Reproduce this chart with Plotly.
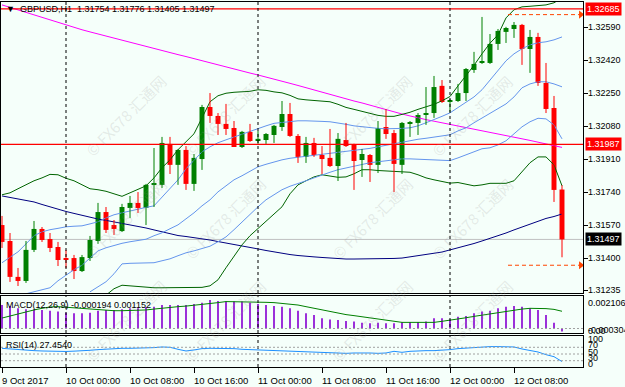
import plotly.graph_objects as go

# ---------------- data ----------------
time_labels = ["9 Oct 2017", "10 Oct 00:00", "10 Oct 08:00", "10 Oct 16:00", "11 Oct 00:00",
               "11 Oct 08:00", "11 Oct 16:00", "12 Oct 00:00", "12 Oct 08:00"]
time_label_bars = [0, 8, 16, 24, 32, 40, 48, 56, 64]
day_separator_bars = [8, 32, 56]

opens = [1.31571, 1.31489, 1.31304, 1.31283, 1.31443, 1.31551, 1.31499, 1.31458, 1.31401, 1.31401,
         1.31334, 1.31401, 1.31489, 1.31638, 1.31571, 1.31540, 1.31659, 1.31685, 1.31659, 1.31778,
         1.31778, 1.31989, 1.31881, 1.31958, 1.31783, 1.31911, 1.32179, 1.32133, 1.32092, 1.32071,
         1.31973, 1.32051, 1.32004, 1.32009, 1.32035, 1.32076, 1.32143, 1.32030, 1.31922, 1.31994,
         1.31932, 1.31917, 1.31875, 1.32009, 1.31984, 1.31906, 1.31932, 1.31881, 1.32076, 1.32045,
         1.31881, 1.32092, 1.32097, 1.32138, 1.32148, 1.32288, 1.32205, 1.32210, 1.32251, 1.32370,
         1.32406, 1.32406, 1.32504, 1.32566, 1.32581, 1.32602, 1.32478, 1.32540, 1.32303, 1.32174,
         1.31754]
highs = [1.31618, 1.31530, 1.31350, 1.31489, 1.31592, 1.31561, 1.31530, 1.31484, 1.31443, 1.31417,
         1.31417, 1.31515, 1.31685, 1.31664, 1.31597, 1.31680, 1.31721, 1.31741, 1.31783, 1.31968,
         1.32025, 1.32025, 1.31963, 1.31978, 1.31937, 1.32190, 1.32251, 1.32148, 1.32195, 1.32107,
         1.32056, 1.32092, 1.32056, 1.32045, 1.32087, 1.32210, 1.32200, 1.32040, 1.32025, 1.32020,
         1.31978, 1.32066, 1.32045, 1.32097, 1.31990, 1.31963, 1.31937, 1.32107, 1.32169, 1.32061,
         1.32102, 1.32107, 1.32148, 1.32282, 1.32339, 1.32318, 1.32220, 1.32298, 1.32380, 1.32463,
         1.32643, 1.32555, 1.32581, 1.32592, 1.32617, 1.32607, 1.32576, 1.32561, 1.32406, 1.32236,
         1.31776]
lows = [1.31453, 1.31278, 1.31257, 1.31273, 1.31432, 1.31484, 1.31432, 1.31360, 1.31350, 1.31293,
        1.31329, 1.31386, 1.31474, 1.31530, 1.31520, 1.31535, 1.31607, 1.31633, 1.31571, 1.31664,
        1.31762, 1.31834, 1.31778, 1.31752, 1.31747, 1.31855, 1.32097, 1.32035, 1.32035, 1.31973,
        1.31968, 1.31999, 1.31989, 1.31989, 1.31994, 1.32056, 1.32025, 1.31891, 1.31891, 1.31922,
        1.31834, 1.31870, 1.31798, 1.31973, 1.31752, 1.31819, 1.31793, 1.31839, 1.32015, 1.31741,
        1.31834, 1.32025, 1.32035, 1.32087, 1.32123, 1.32200, 1.32154, 1.32205, 1.32210, 1.32355,
        1.32401, 1.32401, 1.32473, 1.32509, 1.32535, 1.32396, 1.32355, 1.32288, 1.32148, 1.31690,
        1.31405]
closes = [1.31484, 1.31304, 1.31283, 1.31443, 1.31551, 1.31494, 1.31453, 1.31391, 1.31391, 1.31334,
          1.31406, 1.31494, 1.31638, 1.31546, 1.31551, 1.31664, 1.31685, 1.31659, 1.31778, 1.31783,
          1.31994, 1.31881, 1.31958, 1.31783, 1.31917, 1.32179, 1.32133, 1.32092, 1.32066, 1.31973,
          1.32051, 1.32004, 1.32015, 1.32040, 1.32082, 1.32143, 1.32030, 1.31922, 1.31994, 1.31932,
          1.31911, 1.31875, 1.32015, 1.31978, 1.31901, 1.31937, 1.31881, 1.32071, 1.32040, 1.31886,
          1.32097, 1.32097, 1.32138, 1.32148, 1.32282, 1.32205, 1.32215, 1.32251, 1.32375, 1.32401,
          1.32411, 1.32504, 1.32571, 1.32586, 1.32602, 1.32478, 1.32540, 1.32303, 1.32169, 1.31752,
          1.31497]

ma_slow = [1.31721, 1.31713, 1.31705, 1.31698, 1.31690, 1.31677, 1.31664, 1.31651, 1.31641, 1.31631,
           1.31620, 1.31613, 1.31602, 1.31595, 1.31587, 1.31579, 1.31574, 1.31566, 1.31556, 1.31546,
           1.31535, 1.31525, 1.31517, 1.31512, 1.31507, 1.31502, 1.31494, 1.31486, 1.31479, 1.31471,
           1.31463, 1.31456, 1.31448, 1.31440, 1.31432, 1.31425, 1.31419, 1.31414, 1.31409, 1.31407,
           1.31404, 1.31401, 1.31399, 1.31396, 1.31396, 1.31396, 1.31396, 1.31396, 1.31399, 1.31399,
           1.31401, 1.31407, 1.31412, 1.31417, 1.31425, 1.31432, 1.31443, 1.31453, 1.31463, 1.31476,
           1.31489, 1.31502, 1.31515, 1.31530, 1.31546, 1.31561, 1.31577, 1.31592, 1.31605, 1.31615,
           1.31628]
ma_long = [1.32705, 1.32692, 1.32679, 1.32666, 1.32653, 1.32640, 1.32628, 1.32615, 1.32602, 1.32589,
           1.32577, 1.32566, 1.32555, 1.32545, 1.32534, 1.32524, 1.32513, 1.32502, 1.32492, 1.32481,
           1.32471, 1.32460, 1.32449, 1.32439, 1.32428, 1.32417, 1.32407, 1.32396, 1.32386, 1.32375,
           1.32365, 1.32354, 1.32344, 1.32334, 1.32323, 1.32311, 1.32301, 1.32290, 1.32278, 1.32267,
           1.32256, 1.32245, 1.32233, 1.32222, 1.32210, 1.32200, 1.32188, 1.32177, 1.32166, 1.32155,
           1.32143, 1.32133, 1.32122, 1.32114, 1.32106, 1.32098, 1.32090, 1.32082, 1.32074, 1.32066,
           1.32058, 1.32050, 1.32042, 1.32034, 1.32025, 1.32016, 1.32007, 1.31998, 1.31989, 1.31980,
           1.31971]
band_outer_upper = [1.31727, 1.31737, 1.31758, 1.31778, 1.31799, 1.31814, 1.31832, 1.31830, 1.31812, 1.31799,
                    1.31778, 1.31758, 1.31753, 1.31745, 1.31732, 1.31719, 1.31737, 1.31755, 1.31773, 1.31814,
                    1.31866, 1.31907, 1.31959, 1.32000, 1.32041, 1.32123, 1.32206, 1.32237, 1.32250, 1.32255,
                    1.32257, 1.32260, 1.32268, 1.32265, 1.32257, 1.32252, 1.32239, 1.32221, 1.32216, 1.32213,
                    1.32211, 1.32206, 1.32193, 1.32177, 1.32167, 1.32157, 1.32144, 1.32136, 1.32131, 1.32131,
                    1.32141, 1.32152, 1.32167, 1.32180, 1.32193, 1.32211, 1.32233, 1.32288, 1.32340, 1.32394,
                    1.32453, 1.32508, 1.32551, 1.32638, 1.32680, 1.32695, 1.32698, 1.32700, 1.32705, 1.32716,
                    1.32741]
band_outer_lower = [None, None, None, None, None, None, None, None, None, None,
                    None, None, None, 1.31210, 1.31243, 1.31261, 1.31258, 1.31253, 1.31250, 1.31248,
                    1.31248, 1.31248, 1.31248, 1.31248, 1.31248, 1.31250, 1.31258, 1.31289, 1.31351, 1.31413,
                    1.31469, 1.31516, 1.31552, 1.31588, 1.31624, 1.31665, 1.31732, 1.31778, 1.31799, 1.31819,
                    1.31830, 1.31825, 1.31817, 1.31819, 1.31835, 1.31856, 1.31856, 1.31852, 1.31850, 1.31847,
                    1.31845, 1.31843, 1.31830, 1.31814, 1.31804, 1.31794, 1.31787, 1.31790, 1.31781, 1.31773,
                    1.31778, 1.31786, 1.31786, 1.31786, 1.31799, 1.31845, 1.31892, 1.31922, 1.31922, 1.31881,
                    1.31773]
band_inner_upper = [1.31377, 1.31407, 1.31433, 1.31474, 1.31516, 1.31536, 1.31547, 1.31554, 1.31562, 1.31565,
                    1.31567, 1.31577, 1.31588, 1.31608, 1.31624, 1.31634, 1.31644, 1.31655, 1.31662, 1.31670,
                    1.31716, 1.31758, 1.31804, 1.31861, 1.31902, 1.31948, 1.31974, 1.31995, 1.32010, 1.32025,
                    1.32036, 1.32051, 1.32069, 1.32082, 1.32095, 1.32100, 1.32105, 1.32108, 1.32108, 1.32108,
                    1.32105, 1.32103, 1.32098, 1.32090, 1.32082, 1.32077, 1.32072, 1.32069, 1.32067, 1.32067,
                    1.32069, 1.32072, 1.32082, 1.32098, 1.32113, 1.32131, 1.32149, 1.32175, 1.32201, 1.32231,
                    1.32268, 1.32319, 1.32371, 1.32417, 1.32453, 1.32479, 1.32499, 1.32510, 1.32515, 1.32525,
                    1.32540]
band_middle = [1.31186, 1.31196, 1.31207, 1.31217, 1.31227, 1.31238, 1.31248, 1.31284, 1.31312, 1.31341,
               1.31364, 1.31402, 1.31438, 1.31454, 1.31467, 1.31477, 1.31485, 1.31490, 1.31498, 1.31516,
               1.31531, 1.31552, 1.31572, 1.31603, 1.31634, 1.31670, 1.31701, 1.31742, 1.31773, 1.31804,
               1.31825, 1.31850, 1.31871, 1.31884, 1.31897, 1.31907, 1.31915, 1.31920, 1.31925, 1.31930,
               1.31935, 1.31941, 1.31946, 1.31951, 1.31956, 1.31961, 1.31966, 1.31974, 1.31982, 1.31989,
               1.32000, 1.32007, 1.32013, 1.32018, 1.32023, 1.32028, 1.32036, 1.32056, 1.32072, 1.32098,
               1.32123, 1.32149, 1.32170, 1.32195, 1.32231, 1.32278, 1.32298, 1.32309, 1.32309, 1.32298,
               1.32283]
band_inner_lower = [None, None, None, None, None, None, None, None, None, None,
                    None, 1.31227, 1.31253, 1.31279, 1.31320, 1.31371, 1.31374, 1.31374, 1.31374, 1.31377,
                    1.31387, 1.31397, 1.31413, 1.31428, 1.31438, 1.31449, 1.31462, 1.31485, 1.31510, 1.31547,
                    1.31588, 1.31629, 1.31665, 1.31701, 1.31727, 1.31753, 1.31771, 1.31783, 1.31799, 1.31814,
                    1.31830, 1.31843, 1.31856, 1.31866, 1.31876, 1.31884, 1.31892, 1.31897, 1.31902, 1.31907,
                    1.31912, 1.31912, 1.31910, 1.31907, 1.31904, 1.31903, 1.31903, 1.31917, 1.31933, 1.31948,
                    1.31964, 1.31969, 1.31984, 1.32005, 1.32041, 1.32077, 1.32103, 1.32121, 1.32118, 1.32087,
                    1.32015]

macd_hist = [0.00157, 0.00150, 0.00135, 0.00128, 0.00128, 0.00124, 0.00119, 0.00113, 0.00106, 0.00102,
             0.00102, 0.00106, 0.00119, 0.00124, 0.00124, 0.00128, 0.00135, 0.00135, 0.00142, 0.00146,
             0.00157, 0.00157, 0.00157, 0.00157, 0.00164, 0.00173, 0.00191, 0.00184, 0.00180, 0.00180,
             0.00180, 0.00173, 0.00164, 0.00157, 0.00150, 0.00146, 0.00135, 0.00119, 0.00102, 0.00090,
             0.00068, 0.00061, 0.00057, 0.00050, 0.00046, 0.00039, 0.00035, 0.00039, 0.00035, 0.00035,
             0.00041, 0.00041, 0.00043, 0.00046, 0.00068, 0.00068, 0.00061, 0.00079, 0.00084, 0.00102,
             0.00113, 0.00119, 0.00135, 0.00146, 0.00150, 0.00146, 0.00135, 0.00124, 0.00090, 0.00039,
             -0.000194]
macd_signal = [0.00070, 0.00084, 0.00097, 0.00110, 0.00124, 0.00135, 0.00144, 0.00146, 0.00142, 0.00137,
               0.00133, 0.00128, 0.00124, 0.00122, 0.00119, 0.00119, 0.00119, 0.00119, 0.00124, 0.00130,
               0.00137, 0.00142, 0.00146, 0.00150, 0.00155, 0.00159, 0.00166, 0.00173, 0.00180, 0.00180,
               0.00180, 0.00180, 0.00177, 0.00175, 0.00173, 0.00168, 0.00164, 0.00157, 0.00146, 0.00135,
               0.00124, 0.00113, 0.00102, 0.00093, 0.00086, 0.00079, 0.00070, 0.00061, 0.00055, 0.00048,
               0.00041, 0.00041, 0.00041, 0.00041, 0.00041, 0.00048, 0.00055, 0.00064, 0.00072, 0.00081,
               0.00090, 0.00099, 0.00108, 0.00117, 0.00124, 0.00130, 0.00135, 0.00135, 0.00133, 0.00128,
               0.001152]
rsi = [66.9, 65, 62, 61, 60, 59, 58, 57, 57.5, 58.5,
       59, 61, 63, 65, 66, 67, 67, 67, 67, 69,
       71, 70, 64, 59, 62, 66, 67, 67, 67, 66,
       64, 63, 62, 62, 62, 61, 60, 59, 58, 56,
       54, 53, 52, 52, 53, 54, 53, 52, 53, 58,
       55, 58, 60, 60, 60, 61, 63, 66, 68, 70,
       71, 72, 72, 72, 71, 65, 61, 56, 48, 42,
       27.454]

price_ticks = [1.32590, 1.32420, 1.32250, 1.32080, 1.31910, 1.31740, 1.31570, 1.31400, 1.31235]
level_lines = [1.32685, 1.31987]
bid_price = 1.31497
target_high = 1.32655
target_low = 1.31364
header = "GBPUSD,H1  1.31754 1.31776 1.31405 1.31497"
macd_label = "MACD(12,26,9) -0.000194 0.001152"
rsi_label = "RSI(14) 27.4540"
macd_scale = ["0.002106", "-0.000304"]
rsi_levels = [70, 50, 30]

# ---------------- styling ----------------
W, H = 625, 387
BG = "#F5FFFA"
FONT = "Liberation Sans, Arial, sans-serif"
GREEN, RED = "#008000", "#FF0000"
idx = list(range(len(closes)))

def py(px):  # pixel row -> paper fraction
    return 1 - px / H

def pxx(px):
    return px / W

X_DOM = [pxx(1), pxx(583)]
MAIN_DOM = [py(293), py(2)]
MACD_DOM = [py(333), py(296)]
RSI_DOM = [py(367), py(336)]
XR = [-0.125, 72.625]

fig = go.Figure()

def add_line(y, color, axis="y", xaxis="x", width=1):
    fig.add_trace(go.Scatter(x=idx, y=y, mode="lines", line=dict(color=color, width=width),
                             xaxis=xaxis, yaxis=axis, hoverinfo="skip", showlegend=False,
                             connectgaps=False))

add_line(ma_long, "#FF00FF")
add_line(ma_slow, "#000080")
add_line(band_outer_upper, "#006400")
add_line(band_outer_lower, "#006400")
add_line(band_inner_upper, "#6495ED")
add_line(band_middle, "#6495ED")
add_line(band_inner_lower, "#6495ED")

# candles
up = [i for i in idx if closes[i] >= opens[i]]
dn = [i for i in idx if closes[i] < opens[i]]
min_body = 0.00005
for grp, col in ((up, GREEN), (dn, RED)):
    wx, wy = [], []
    for i in grp:
        wx += [i, i, None]
        wy += [lows[i], highs[i], None]
    fig.add_trace(go.Scatter(x=wx, y=wy, mode="lines", line=dict(color=col, width=1),
                             xaxis="x", yaxis="y", hoverinfo="skip", showlegend=False))
    fig.add_trace(go.Bar(x=grp, base=[min(opens[i], closes[i]) for i in grp],
                         y=[max(abs(closes[i] - opens[i]), min_body) for i in grp],
                         width=0.62, marker=dict(color=col, line=dict(width=0)),
                         xaxis="x", yaxis="y", hoverinfo="skip", showlegend=False))

# MACD
fig.add_trace(go.Bar(x=idx, y=macd_hist, width=0.25, marker=dict(color="#9B30D9", line=dict(width=0)),
                     xaxis="x2", yaxis="y2", hoverinfo="skip", showlegend=False))
add_line(macd_signal, "#008000", axis="y2", xaxis="x2")
# RSI
add_line(rsi, "#1E90FF", axis="y3", xaxis="x3")

# target arrows
for tp in (target_high, target_low):
    fig.add_trace(go.Scatter(x=[72.35], y=[tp], mode="markers",
                             marker=dict(symbol="triangle-right", size=7, color="#FF4500"),
                             xaxis="x", yaxis="y", hoverinfo="skip", showlegend=False))

shapes = []
for lv in level_lines:
    shapes.append(dict(type="line", xref="x domain", yref="y", x0=0, x1=1, y0=lv, y1=lv,
                       line=dict(color="#FF0000", width=1.3)))
shapes.append(dict(type="line", xref="x domain", yref="y", x0=0, x1=1, y0=bid_price, y1=bid_price,
                   line=dict(color="#C0C0C0", width=1), layer="below"))
for tp in (target_high, target_low):
    shapes.append(dict(type="line", xref="x", yref="y", x0=63.25, x1=72.2, y0=tp, y1=tp,
                       line=dict(color="#FF4500", width=1, dash="4px,3px")))
for b in day_separator_bars:
    for xr, yr in (("x", "y domain"), ("x2", "y2 domain"), ("x3", "y3 domain")):
        shapes.append(dict(type="line", xref=xr, yref=yr, x0=b, x1=b, y0=0, y1=1,
                           line=dict(color="black", width=1, dash="3px,3px")))
shapes.append(dict(type="line", xref="x2 domain", yref="y2", x0=0, x1=1, y0=0, y1=0,
                   line=dict(color="#A0A0A0", width=1, dash="2px,2px")))
for lv in rsi_levels:
    shapes.append(dict(type="line", xref="x3 domain", yref="y3", x0=0, x1=1, y0=lv, y1=lv,
                       line=dict(color="#A0A0A0", width=1, dash="2px,2px")))

ann = []
# watermarks
for cy in (68, 218, 368):
    for cx in (78, 225, 372, 520):
        ann.append(dict(text="© FX678 汇通网", x=pxx(cx), y=py(cy), xref="paper", yref="paper",
                        showarrow=False, textangle=-45,
                        font=dict(family="Noto Sans CJK SC, sans-serif", size=15, color="rgba(150,150,150,0.2)")))
ann.append(dict(text="▼  " + header, x=pxx(4), y=py(9), xref="paper", yref="paper", xanchor="left",
                yanchor="middle", showarrow=False, font=dict(family=FONT, size=9, color="black")))
ann.append(dict(text=macd_label, x=pxx(4), y=py(305), xref="paper", yref="paper", xanchor="left",
                yanchor="middle", showarrow=False, font=dict(family=FONT, size=9, color="black")))
ann.append(dict(text=rsi_label, x=pxx(4), y=py(345), xref="paper", yref="paper", xanchor="left",
                yanchor="middle", showarrow=False, font=dict(family=FONT, size=9, color="black")))
for p in price_ticks:
    ann.append(dict(text=f"{p:.5f}", x=pxx(586), y=p, xref="paper", yref="y", xanchor="left",
                    yanchor="middle", showarrow=False, font=dict(family=FONT, size=9, color="black")))
for lv in level_lines:
    ann.append(dict(text=f"{lv:.5f}", x=pxx(585), y=lv, xref="paper", yref="y", xanchor="left",
                    yanchor="middle", showarrow=False, bgcolor="#FF0000", borderpad=1,
                    font=dict(family=FONT, size=9, color="white")))
ann.append(dict(text=f"{bid_price:.5f}", x=pxx(585), y=bid_price, xref="paper", yref="y", xanchor="left",
                yanchor="middle", showarrow=False, bgcolor="black", borderpad=1,
                font=dict(family=FONT, size=9, color="white")))
ann.append(dict(text=macd_scale[0], x=pxx(586), y=py(303), xref="paper", yref="paper", xanchor="left",
                yanchor="middle", showarrow=False, font=dict(family=FONT, size=9, color="black")))
ann.append(dict(text=macd_scale[1], x=pxx(586), y=py(330), xref="paper", yref="paper", xanchor="left",
                yanchor="middle", showarrow=False, font=dict(family=FONT, size=9, color="black")))
ann.append(dict(text="0.00", x=pxx(586), y=py(331), xref="paper", yref="paper", xanchor="left",
                yanchor="middle", showarrow=False, font=dict(family=FONT, size=9, color="black")))
for v, yy in ((100, 339), (70, 345), (50, 352), (30, 358), (0, 364)):
    ann.append(dict(text=str(v), x=pxx(586), y=py(yy), xref="paper", yref="paper", xanchor="left",
                    yanchor="middle", showarrow=False, font=dict(family=FONT, size=9, color="black")))
for b, t in zip(time_label_bars, time_labels):
    ann.append(dict(text=t, x=b, y=py(380), xref="x3", yref="paper", xanchor="left", xshift=-2,
                    yanchor="middle", showarrow=False, font=dict(family=FONT, size=9.5, color="black")))

axis_common = dict(showgrid=False, zeroline=False, showline=True, mirror=True, linecolor="black",
                   linewidth=1)
fig.update_layout(
    width=W, height=H, margin=dict(l=0, r=0, t=0, b=0), paper_bgcolor=BG, plot_bgcolor=BG,
    barmode="overlay", showlegend=False, shapes=shapes, annotations=ann,
    xaxis=dict(domain=X_DOM, range=XR, anchor="y", showticklabels=False, **axis_common),
    yaxis=dict(domain=MAIN_DOM, range=[1.31221, 1.32720], side="right", anchor="x",
               tickvals=price_ticks, ticks="outside", ticklen=4, tickcolor="black",
               showticklabels=False, **axis_common),
    xaxis2=dict(domain=X_DOM, range=XR, anchor="y2", showticklabels=False, **axis_common),
    yaxis2=dict(domain=MACD_DOM, range=[-0.000301, 0.002174], side="right", anchor="x2",
                showticklabels=False, **axis_common),
    xaxis3=dict(domain=X_DOM, range=XR, anchor="y3", showticklabels=False, tickvals=time_label_bars,
                ticks="outside", ticklen=5, tickcolor="black", **axis_common),
    yaxis3=dict(domain=RSI_DOM, range=[11.2, 103.7], side="right", anchor="x3",
                showticklabels=False, **axis_common),
)
fig.write_html("out.html", config={"displayModeBar": False},
               post_script="document.body.style.margin='0';document.body.style.background='" + BG + "';")
